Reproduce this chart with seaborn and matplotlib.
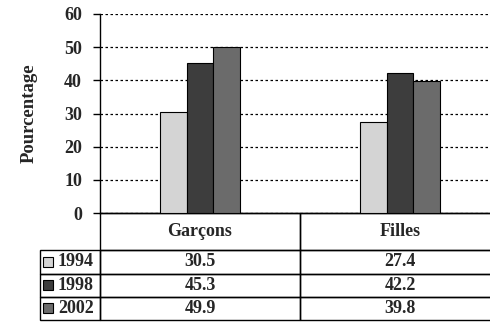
import matplotlib
matplotlib.use("Agg")
import matplotlib.pyplot as plt
import seaborn as sns
import pandas as pd
from matplotlib.patches import Rectangle

# --- data ---
groups = ["Garçons", "Filles"]
years = ["1994", "1998", "2002"]
v1994 = [30.5, 27.4]
v1998 = [45.3, 42.2]
v2002 = [49.9, 39.8]
colors = ["#d4d4d4", "#3d3d3d", "#6b6b6b"]

values = {"1994": v1994, "1998": v1998, "2002": v2002}
df = pd.DataFrame(
    [(g, y, values[y][i]) for y in years for i, g in enumerate(groups)],
    columns=["groupe", "annee", "pct"],
)

sns.set_theme(style="white")
plt.rcParams["font.family"] = ["Liberation Serif", "DejaVu Serif"]
plt.rcParams["font.weight"] = "bold"

fig = plt.figure(figsize=(4.9, 3.25), dpi=100)
# axes runs past the right edge like the original crop
ax = fig.add_axes([100 / 490, 112 / 325, 400 / 490, 199 / 325])

sns.barplot(data=df, x="groupe", y="pct", hue="annee", hue_order=years,
            palette=colors, width=0.4, edgecolor="black", linewidth=0.8,
            legend=False, ax=ax, zorder=3)

ax.set_xlim(-0.5, 1.5)
ax.set_ylim(0, 60)
ax.set_yticks(range(0, 61, 10))
ax.set_xticks([])
ax.set_xlabel("")
ax.set_ylabel("Pourcentage", fontsize=13.5, fontweight="bold", labelpad=19)
ax.tick_params(axis="y", direction="out", length=5, width=1, color="black",
               labelsize=13, left=True, pad=8)
for lab in ax.get_yticklabels():
    lab.set_fontweight("bold")
ax.yaxis.grid(True, linestyle=(0, (2, 2)), color="black", linewidth=0.9)
ax.set_axisbelow(True)
for side in ["top", "right"]:
    ax.spines[side].set_visible(False)
for side in ["left", "bottom"]:
    ax.spines[side].set_color("black")
    ax.spines[side].set_linewidth(1)

# --- data table under the chart ---
cell_text = [[f"{v:.1f}" for v in values[y]] for y in years]
# bbox covers the data grid only; row labels hang off to the left
tab = ax.table(cellText=cell_text, colLabels=groups, cellLoc="center",
               bbox=[0, -107 / 199, 1, 107 / 199])
for i, y in enumerate(years):
    tab.add_cell(i + 1, -1, width=60 / 400, height=23 / 199, text=y, loc="right")
tab.auto_set_font_size(False)
tab.set_fontsize(13)
for (r, c), cell in tab.get_celld().items():
    cell.set_edgecolor("black")
    cell.set_linewidth(1)
    cell.set_height((37 if r == 0 else 23) / 199)
    cell.set_width((60 if c == -1 else 200) / 400)
    cell.get_text().set_fontweight("bold")
    cell.get_text().set_fontsize(13)
    cell.set_facecolor("none")

fig.canvas.draw()
# legend keys inside the row-label cells
for i, y in enumerate(years):
    cell = tab[i + 1, -1]
    cx, cy = cell.get_x(), cell.get_y()
    h = cell.get_height()
    sq_w = 10 / 400
    sq_h = 10 / 199
    ax.add_patch(Rectangle((cx + 3 / 400, cy + (h - sq_h) / 2), sq_w, sq_h,
                           facecolor=colors[i], edgecolor="black", linewidth=0.8,
                           transform=ax.transAxes, clip_on=False, zorder=5))

fig.savefig("out.png", dpi=100)
